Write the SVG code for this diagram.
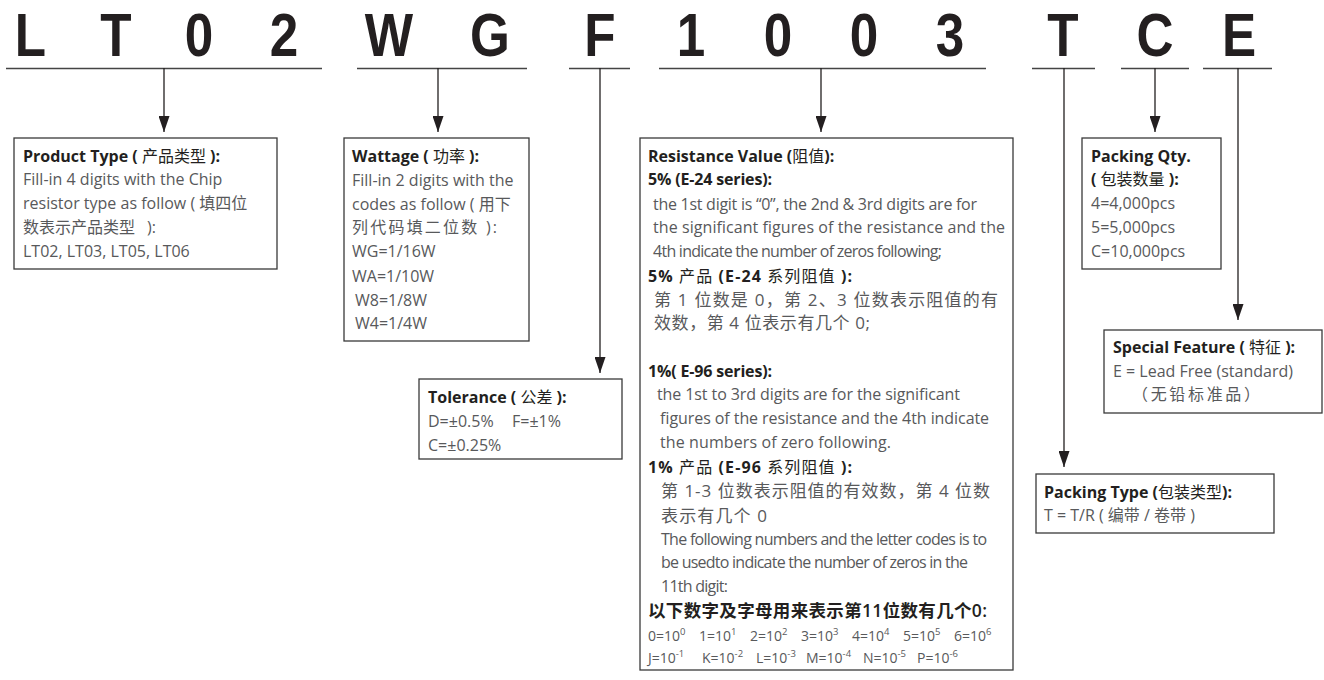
<svg xmlns="http://www.w3.org/2000/svg" width="1324" height="680" viewBox="0 0 1324 680">
<style>
.big{font-family:"Liberation Sans",Arial,sans-serif;font-size:61px;font-weight:700;fill:#231f20;text-anchor:middle}
.box{fill:#fff;stroke:#3a3a3a;stroke-width:1.3}
.ln{stroke:#231f20;stroke-width:1.3;fill:none}
.ul{stroke:#444;stroke-width:1.6;fill:none}
text{font-family:"Open Sans","Noto Sans CJK SC",sans-serif}
.t{font-size:16px;font-weight:700;fill:#231f20}
.t .c{font-weight:400}
.b{font-size:16px;fill:#58595b}
.bc{font-size:17px;fill:#58595b}
.k{font-size:17.5px;font-weight:600;fill:#231f20}
.s{font-size:14px;fill:#58595b}
.sup{font-size:9.5px}
</style>
<defs>
<marker id="ah" markerUnits="userSpaceOnUse" viewBox="0 0 16 11" refX="16" refY="5.5" markerWidth="16" markerHeight="11" orient="auto">
<path d="M0,0 L16,5.5 L0,11 z" fill="#231f20"/>
</marker>
</defs>

<g id="code">
<text class="big" transform="translate(30.5 56) scale(0.84 1)">L</text>
<text class="big" transform="translate(116 56) scale(0.84 1)">T</text>
<text class="big" transform="translate(199 56) scale(0.84 1)">0</text>
<text class="big" transform="translate(284 56) scale(0.84 1)">2</text>
<text class="big" transform="translate(389 56) scale(0.84 1)">W</text>
<text class="big" transform="translate(490 56) scale(0.84 1)">G</text>
<text class="big" transform="translate(600 56) scale(0.84 1)">F</text>
<text class="big" transform="translate(691 56) scale(0.84 1)">1</text>
<text class="big" transform="translate(778 56) scale(0.84 1)">0</text>
<text class="big" transform="translate(864 56) scale(0.84 1)">0</text>
<text class="big" transform="translate(950 56) scale(0.84 1)">3</text>
<text class="big" transform="translate(1063 56) scale(0.84 1)">T</text>
<text class="big" transform="translate(1155 56) scale(0.84 1)">C</text>
<text class="big" transform="translate(1239 56) scale(0.84 1)">E</text>
</g>

<g id="connectors">
<path class="ul" d="M6,68.5H322 M357,68.5H527 M569,68.5H630 M659,68.5H986 M1032,68.5H1095 M1121,68.5H1189 M1203,68.5H1272"/>
<line class="ln" x1="164" y1="68" x2="164" y2="132" marker-end="url(#ah)"/>
<line class="ln" x1="438" y1="68" x2="438" y2="132" marker-end="url(#ah)"/>
<line class="ln" x1="600" y1="68" x2="600" y2="373" marker-end="url(#ah)"/>
<line class="ln" x1="821" y1="68" x2="821" y2="132" marker-end="url(#ah)"/>
<line class="ln" x1="1064" y1="68" x2="1064" y2="467" marker-end="url(#ah)"/>
<line class="ln" x1="1155" y1="68" x2="1155" y2="132" marker-end="url(#ah)"/>
<line class="ln" x1="1238" y1="68" x2="1238" y2="320" marker-end="url(#ah)"/>
</g>

<g id="product-type">
<rect class="box" x="14" y="138" width="263" height="131"/>
<text class="t" x="23" y="162">Product Type ( <tspan class="c">产品类型</tspan> ):</text>
<text class="b" x="23" y="185">Fill-in 4 digits with the Chip</text>
<text class="b" x="23" y="209">resistor type as follow ( 填四位</text>
<text class="b" x="23" y="233">数表示产品类型<tspan dx="12">):</tspan></text>
<text class="b" x="23" y="257">LT02, LT03, LT05, LT06</text>
</g>

<g id="wattage">
<rect class="box" x="344" y="138" width="185" height="203"/>
<text class="t" x="352" y="162">Wattage ( <tspan class="c">功率</tspan> ):</text>
<text class="b" x="352" y="186">Fill-in 2 digits with the</text>
<text class="b" x="352" y="210">codes as follow ( 用下</text>
<text class="b" x="352" y="233" textLength="145">列代码填二位数 ):</text>
<text class="b" x="352" y="257">WG=1/16W</text>
<text class="b" x="352" y="282">WA=1/10W</text>
<text class="b" x="355" y="306">W8=1/8W</text>
<text class="b" x="355" y="329">W4=1/4W</text>
</g>

<g id="tolerance">
<rect class="box" x="419" y="379" width="203" height="80"/>
<text class="t" x="428" y="403">Tolerance ( <tspan class="c">公差</tspan> ):</text>
<text class="b" x="428" y="427">D=±0.5%<tspan x="512">F=±1%</tspan></text>
<text class="b" x="428" y="451">C=±0.25%</text>
</g>

<g id="resistance-value">
<rect class="box" x="640" y="138" width="373" height="532"/>
<text class="t" x="648" y="162">Resistance Value (<tspan class="c">阻值</tspan>):</text>
<text class="t" x="648" y="185" textLength="124">5% (E-24 series):</text>
<text class="b" x="653" y="210" textLength="324">the 1st digit is “0”, the 2nd &amp; 3rd digits are for</text>
<text class="b" x="653" y="233" textLength="352">the significant figures of the resistance and the</text>
<text class="b" x="653" y="257" textLength="289">4th indicate the number of  zeros following;</text>
<text class="t" x="648" y="282" textLength="204">5% <tspan class="c">产品</tspan> (E-24 <tspan class="c">系列阻值</tspan> ):</text>
<text class="bc" x="654" y="306" textLength="344">第 1 位数是 0，第 2、3 位数表示阻值的有</text>
<text class="bc" x="654" y="329" textLength="216">效数，第 4 位表示有几个 0;</text>
<text class="t" x="648" y="377" textLength="124">1%( E-96 series):</text>
<text class="b" x="657" y="400" textLength="303">the 1st to 3rd digits are for the significant</text>
<text class="b" x="660" y="424" textLength="329">figures of the resistance and the 4th indicate</text>
<text class="b" x="660" y="448" textLength="231">the numbers of zero  following.</text>
<text class="t" x="648" y="473" textLength="204">1% <tspan class="c">产品</tspan> (E-96 <tspan class="c">系列阻值</tspan> ):</text>
<text class="bc" x="661" y="497" textLength="329">第 1-3 位数表示阻值的有效数，第 4 位数</text>
<text class="bc" x="661" y="522" textLength="106">表示有几个 0</text>
<text class="b" x="661" y="545" textLength="326">The following numbers and the letter codes is to</text>
<text class="b" x="661" y="568" textLength="307">be usedto indicate the number of zeros in the</text>
<text class="b" x="661" y="592" textLength="67">11th digit:</text>
<text class="k" x="648" y="617" textLength="339">以下数字及字母用来表示第11位数有几个0:</text>
<text class="s" y="641"><tspan x="648">0=10</tspan><tspan class="sup" dy="-6">0</tspan><tspan x="699" dy="6">1=10</tspan><tspan class="sup" dy="-6">1</tspan><tspan x="750" dy="6">2=10</tspan><tspan class="sup" dy="-6">2</tspan><tspan x="801" dy="6">3=10</tspan><tspan class="sup" dy="-6">3</tspan><tspan x="852" dy="6">4=10</tspan><tspan class="sup" dy="-6">4</tspan><tspan x="903" dy="6">5=10</tspan><tspan class="sup" dy="-6">5</tspan><tspan x="954" dy="6">6=10</tspan><tspan class="sup" dy="-6">6</tspan></text>
<text class="s" y="663"><tspan x="648">J=10</tspan><tspan class="sup" dy="-6">-1</tspan><tspan x="702" dy="6">K=10</tspan><tspan class="sup" dy="-6">-2</tspan><tspan x="756" dy="6">L=10</tspan><tspan class="sup" dy="-6">-3</tspan><tspan x="806" dy="6">M=10</tspan><tspan class="sup" dy="-6">-4</tspan><tspan x="863" dy="6">N=10</tspan><tspan class="sup" dy="-6">-5</tspan><tspan x="917" dy="6">P=10</tspan><tspan class="sup" dy="-6">-6</tspan></text>
</g>

<g id="packing-qty">
<rect class="box" x="1082" y="138" width="139" height="131"/>
<text class="t" x="1091" y="162">Packing Qty.</text>
<text class="t" x="1091" y="185">( <tspan class="c">包装数量</tspan> ):</text>
<text class="b" x="1091" y="209">4=4,000pcs</text>
<text class="b" x="1091" y="233">5=5,000pcs</text>
<text class="b" x="1091" y="257">C=10,000pcs</text>
</g>

<g id="special-feature">
<rect class="box" x="1104" y="330" width="218" height="83"/>
<text class="t" x="1113" y="353">Special Feature ( <tspan class="c">特征</tspan> ):</text>
<text class="b" x="1113" y="377">E = Lead Free (standard)</text>
<text class="b" x="1132" y="400" textLength="128">（无铅标准品）</text>
</g>

<g id="packing-type">
<rect class="box" x="1036" y="474" width="238" height="59"/>
<text class="t" x="1044" y="498">Packing Type (<tspan class="c">包装类型</tspan>):</text>
<text class="b" x="1044" y="521">T = T/R ( 编带 / 卷带 )</text>
</g>
</svg>
